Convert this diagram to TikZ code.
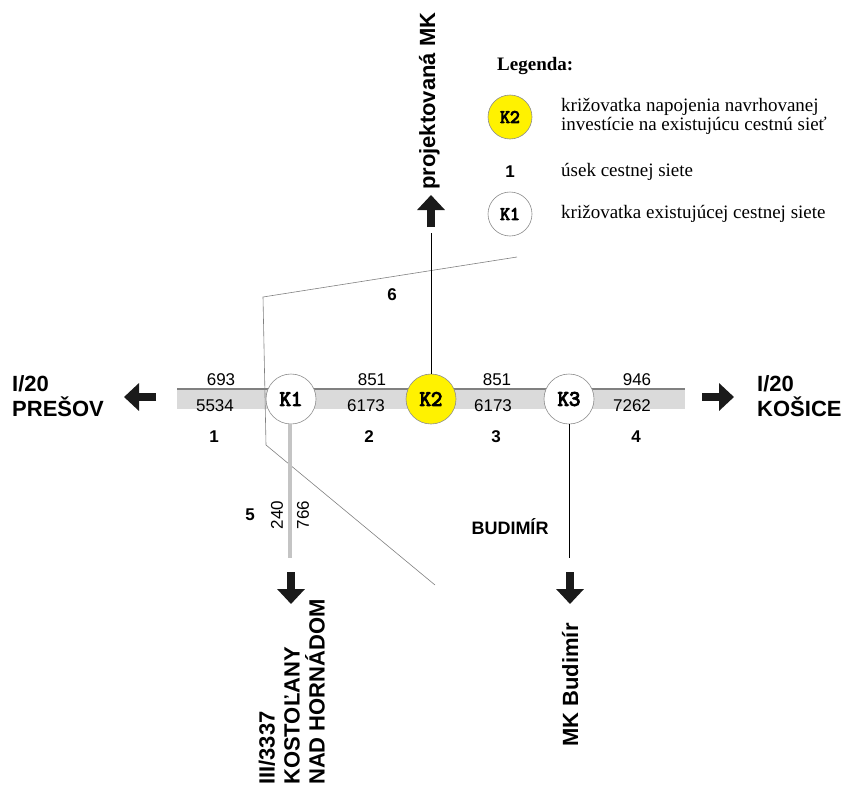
\documentclass[tikz,border=0pt]{standalone}
\usepackage{fontspec}
\setmainfont{Liberation Serif}
\setsansfont{Liberation Sans}
\newfontfamily\knotfont{Latin Modern Mono}[FakeBold=5]
\usepackage{xcolor}
\definecolor{roadgray}{HTML}{DADADA}
\definecolor{edgegray}{HTML}{808080}
\definecolor{ringgray}{HTML}{8C8C8C}
\definecolor{sidegray}{HTML}{C4C4C4}
\definecolor{knotyellow}{HTML}{FFF200}
\definecolor{arrowblack}{HTML}{1A1A1A}
\usepackage{tikz}
\usetikzlibrary{arrows.meta, positioning, calc}

\begin{document}
\begin{tikzpicture}[
    x=1pt, y=-1pt,
    font=\sffamily,
    knot/.style={circle, draw=ringgray, line width=0.6pt, fill=white, minimum size=50pt, inner sep=0pt, font=\knotfont\fontsize{22}{22}\selectfont},
    newknot/.style={knot, fill=knotyellow},
    vol/.style={font=\sffamily\fontsize{17}{17}\selectfont, inner sep=0pt},
    sec/.style={font=\sffamily\bfseries\fontsize{17}{17}\selectfont, inner sep=0pt},
    town/.style={font=\sffamily\bfseries\fontsize{22}{25}\selectfont, align=left, inner sep=0pt},
    fat/.style={draw=arrowblack, line width=8pt, -{Triangle[length=15pt, width=27pt]}},
    leg/.style={font=\rmfamily\fontsize{19}{19}\selectfont, align=left, anchor=west, inner sep=0pt},
]
\useasboundingbox (0,0) rectangle (842,784);

\fill[roadgray] (177,389) rectangle (685,409);
\draw[edgegray, line width=1.8pt] (177,389) -- (685,389);
\draw[edgegray, line width=0.6pt] (517,257) -- (263,297) -- (266,445) -- (435,585);

\node[knot] (k1) at (291,399) {K1};
\node[newknot] (k2) at (431,399) {K2};
\node[knot] (k3) at (569,399) {K3};

\coordinate (k1end) at (290,558);
\coordinate (k2end) at (431,233);
\coordinate (k3end) at (569,558);
\draw[sidegray, line width=3.5pt] (k1.south -| k1end) -- (k1end);
\draw[black, line width=1pt] (k2.north) -- (k2end);
\draw[black, line width=1pt] (k3.south) -- (k3end);

\node[vol] (a1) at (221,380) {693};
\node[vol] (b1) at (215,406) {5534};
\node[vol] (a2) at (372,380) {851};
\node[vol] (b2) at (366,406) {6173};
\node[vol] (a3) at (497,380) {851};
\node[vol] (b3) at (493,406) {6173};
\node[vol] (a4) at (637,380) {946};
\node[vol] (b4) at (632,406) {7262};
\node[vol, rotate=90] (a5) at (277,515) {240};
\node[vol, rotate=90] (b5) at (303,515) {766};

\node[sec] (s1) at (214,437) {1};
\node[sec] (s2) at (369,437) {2};
\node[sec] (s3) at (496,437) {3};
\node[sec] (s4) at (636,437) {4};
\node[sec] (s5) at (250,515) {5};
\node[sec] (s6) at (392,295) {6};
\node[font=\sffamily\bfseries\fontsize{18}{18}\selectfont] (budimir) at (510,527) {BUDIMÍR};

\coordinate (wfrom) at (156,397);
\coordinate (wto) at (124,397);
\coordinate (efrom) at (702,397);
\coordinate (eto) at (734,397);
\coordinate (nfrom) at (431,227);
\coordinate (nto) at (431,195);
\coordinate (s1from) at (291,572);
\coordinate (s1to) at (291,604);
\coordinate (s3from) at (570,572);
\coordinate (s3to) at (570,604);
\draw[fat] (wfrom) -- (wto);
\draw[fat] (efrom) -- (eto);
\draw[fat] (nfrom) -- (nto);
\draw[fat] (s1from) -- (s1to);
\draw[fat] (s3from) -- (s3to);

\node[town, anchor=south west] (presov) at (12,417) {I/20\\PREŠOV};
\node[town, anchor=south west] (kosice) at (757,417) {I/20\\KOŠICE};
\node[town, rotate=90, anchor=base west] (proj) at (435,190) {projektovaná MK};
\node[town, rotate=90, anchor=base west] (mkbud) at (578,747) {MK Budimír};
\node[town, rotate=90, anchor=south west] (kost) at (325,785) {III/3337\\KOSTOĽANY\\NAD HORNÁDOM};

\node[font=\rmfamily\bfseries\fontsize{19}{19}\selectfont, anchor=west, inner sep=0pt] (legtitle) at (497,66) {Legenda:};
\node[newknot, minimum size=44pt, font=\knotfont\fontsize{19}{19}\selectfont] (lk2) at (510,117) {K2};
\node[leg] (lt1) at (561,116) {križovatka napojenia navrhovanej\\investície na existujúcu cestnú sieť};
\node[sec] (l1) at (510,172) {1};
\node[leg] (lt2) at (561,172) {úsek cestnej siete};
\node[knot, minimum size=44pt, font=\knotfont\fontsize{19}{19}\selectfont] (lk1) at (510,214) {K1};
\node[leg] (lt3) at (561,214) {križovatka existujúcej cestnej siete};
\end{tikzpicture}
\end{document}
